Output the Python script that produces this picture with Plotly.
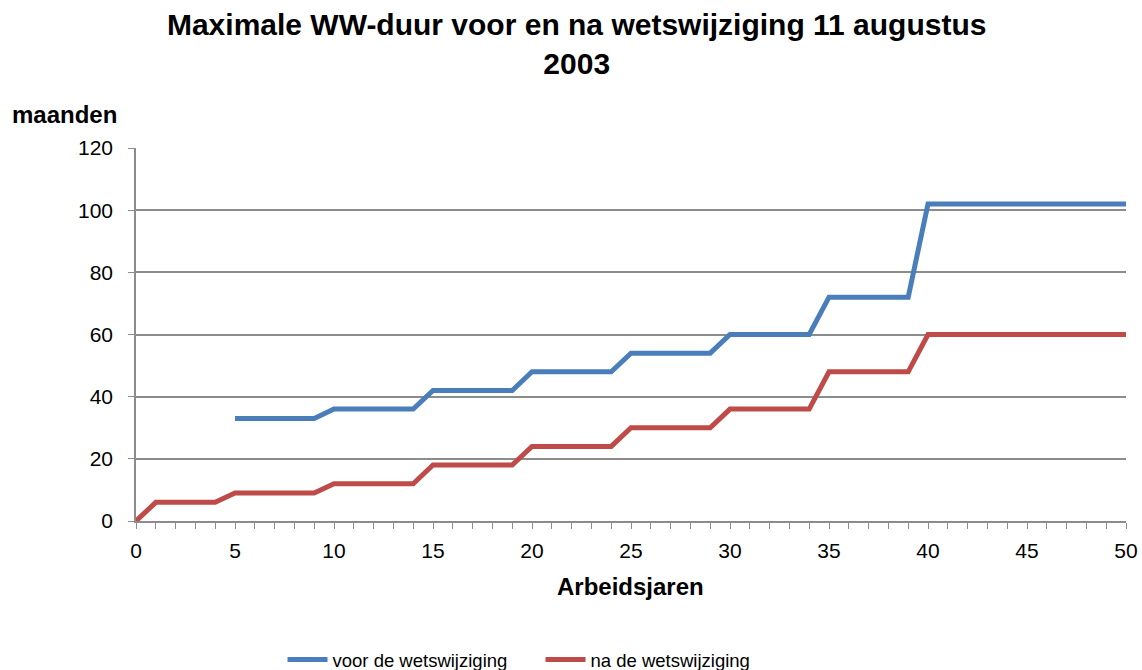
import plotly.graph_objects as go

# ----------------------------------------
# Data
# ----------------------------------------

arbeidsjaren = list(range(0, 51))

voor_wijziging = (
    [None] * 5
    + [33] * 5
    + [36] * 5
    + [42] * 5
    + [48] * 5
    + [54] * 5
    + [60] * 5
    + [72] * 5
    + [102] * 11
)

na_wijziging = (
    [0]
    + [6] * 4
    + [9] * 5
    + [12] * 5
    + [18] * 5
    + [24] * 5
    + [30] * 5
    + [36] * 5
    + [48] * 5
    + [60] * 11
)

FONT = "Liberation Sans, Arial, sans-serif"
GRID = "#8c8c8c"

fig = go.Figure()

fig.add_trace(go.Scatter(
    x=arbeidsjaren,
    y=voor_wijziging,
    mode="lines",
    name="voor de wetswijziging",
    line=dict(color="#4a7ebb", width=5)
))

fig.add_trace(go.Scatter(
    x=arbeidsjaren,
    y=na_wijziging,
    mode="lines",
    name="na de wetswijziging",
    line=dict(color="#be4b48", width=5)
))

fig.update_layout(
    template="plotly_white",
    width=1142,
    height=670,
    margin=dict(l=136, r=16, t=148, b=149, autoexpand=False),
    paper_bgcolor="white",
    plot_bgcolor="white",
    font=dict(family=FONT, size=21, color="black"),
    title=dict(
        text="<b>Maximale WW-duur voor en na wetswijziging 11 augustus<br>2003</b>",
        x=0.505,
        xanchor="center",
        xref="container",
        y=0.9475,
        yanchor="top",
        yref="container",
        font=dict(family=FONT, size=30, color="black")
    ),
    showlegend=True,
    legend=dict(
        orientation="h",
        x=0.148,
        xanchor="left",
        y=-0.3727,
        yanchor="middle",
        font=dict(family=FONT, size=18.5),
        itemwidth=40,
        entrywidth=203,
        tracegroupgap=0
    ),
    xaxis=dict(
        range=[0, 50],
        dtick=5,
        tick0=0,
        showgrid=False,
        zeroline=False,
        showline=True,
        linecolor=GRID,
        linewidth=1.5,
        ticks="outside",
        ticklen=6,
        tickcolor=GRID,
        ticklabelstandoff=4,
        ticklabeloverflow="allow",
        minor=dict(dtick=1, ticks="outside", ticklen=6, tickcolor=GRID, showgrid=False),
        tickfont=dict(family=FONT, size=21)
    ),
    yaxis=dict(
        range=[0, 120],
        dtick=20,
        showgrid=True,
        gridcolor=GRID,
        gridwidth=1.5,
        zeroline=False,
        showline=True,
        linecolor=GRID,
        linewidth=1.5,
        ticks="outside",
        ticklen=6,
        tickcolor=GRID,
        ticklabelstandoff=11,
        tickfont=dict(family=FONT, size=21)
    )
)

fig.add_annotation(
    text="<b>maanden</b>",
    xref="paper",
    yref="paper",
    x=-0.1273,
    y=1.0885,
    xanchor="left",
    yanchor="middle",
    showarrow=False,
    font=dict(family=FONT, size=24, color="black")
)

fig.add_annotation(
    text="<b>Arbeidsjaren</b>",
    xref="paper",
    yref="paper",
    x=0.499,
    y=-0.1743,
    xanchor="center",
    yanchor="middle",
    showarrow=False,
    font=dict(family=FONT, size=24, color="black")
)

# drop the default body margin so the figure fills the window
fig.write_html(
    "out.html",
    config={"displayModeBar": False},
    post_script="document.body.style.margin='0px';document.body.style.overflow='hidden';"
)
